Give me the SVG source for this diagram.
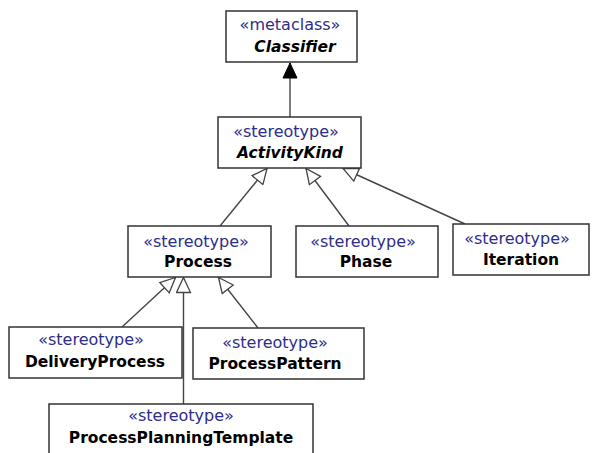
<svg xmlns="http://www.w3.org/2000/svg" width="593" height="453" viewBox="0 0 593 453">
<defs>
<style>
.box{fill:#fff;stroke:#333;stroke-width:1.5}
.st{font-family:"DejaVu Sans",Verdana,sans-serif;font-size:16px;fill:#2d2d8a;text-anchor:middle}
.nm{font-family:"DejaVu Sans",Verdana,sans-serif;font-size:15.5px;font-weight:bold;fill:#000;text-anchor:middle}
.it{font-style:italic}
.ln{stroke:#444;stroke-width:1.4;fill:none}
</style>
<marker id="hollow" markerUnits="userSpaceOnUse" markerWidth="18" markerHeight="16" refX="15" refY="7" orient="auto" viewBox="-1 -1 18 16">
<path d="M0,0 L15,7 L0,14 z" fill="#fff" stroke="#444" stroke-width="1.3"/>
</marker>
<marker id="filled" markerUnits="userSpaceOnUse" markerWidth="18" markerHeight="16" refX="15" refY="7" orient="auto" viewBox="-1 -1 18 16">
<path d="M0,0 L15,7 L0,14 z" fill="#000" stroke="#000" stroke-width="1"/>
</marker>
</defs>
<rect width="593" height="453" fill="#fff"/>
<g id="connectors">
<line class="ln" x1="290" y1="117" x2="290" y2="63" marker-end="url(#filled)"/>
<line class="ln" x1="220" y1="226" x2="267" y2="168.5" marker-end="url(#hollow)"/>
<line class="ln" x1="349" y1="226" x2="306" y2="168.5" marker-end="url(#hollow)"/>
<line class="ln" x1="465" y1="224" x2="343" y2="168.5" marker-end="url(#hollow)"/>
<line class="ln" x1="122" y1="327" x2="175.5" y2="277.5" marker-end="url(#hollow)"/>
<line class="ln" x1="183.5" y1="404" x2="183.5" y2="277.5" marker-end="url(#hollow)"/>
<line class="ln" x1="258" y1="328" x2="218.5" y2="277.5" marker-end="url(#hollow)"/>
</g>
<g id="Classifier">
<rect class="box" x="226" y="11" width="131" height="51"/>
<text class="st" x="290" y="30">«metaclass»</text>
<text class="nm it" x="295" y="52">Classifier</text>
</g>
<g id="ActivityKind">
<rect class="box" x="218" y="117" width="143" height="51"/>
<text class="st" x="286" y="137">«stereotype»</text>
<text class="nm it" x="290" y="158">ActivityKind</text>
</g>
<g id="Process">
<rect class="box" x="128" y="226" width="143" height="51"/>
<text class="st" x="196" y="247">«stereotype»</text>
<text class="nm" x="198" y="267">Process</text>
</g>
<g id="Phase">
<rect class="box" x="296" y="226" width="142" height="51"/>
<text class="st" x="363" y="247">«stereotype»</text>
<text class="nm" x="366" y="267">Phase</text>
</g>
<g id="Iteration">
<rect class="box" x="453" y="224" width="136" height="51"/>
<text class="st" x="517" y="244">«stereotype»</text>
<text class="nm" x="521" y="265">Iteration</text>
</g>
<g id="DeliveryProcess">
<rect class="box" x="9" y="327" width="173" height="51"/>
<text class="st" x="91" y="345">«stereotype»</text>
<text class="nm" x="95" y="367">DeliveryProcess</text>
</g>
<g id="ProcessPattern">
<rect class="box" x="193" y="328" width="171" height="51"/>
<text class="st" x="275" y="348">«stereotype»</text>
<text class="nm" x="275" y="369">ProcessPattern</text>
</g>
<g id="ProcessPlanningTemplate">
<rect class="box" x="49" y="404" width="264" height="60"/>
<text class="st" x="181" y="421">«stereotype»</text>
<text class="nm" x="181" y="443">ProcessPlanningTemplate</text>
</g>
</svg>
